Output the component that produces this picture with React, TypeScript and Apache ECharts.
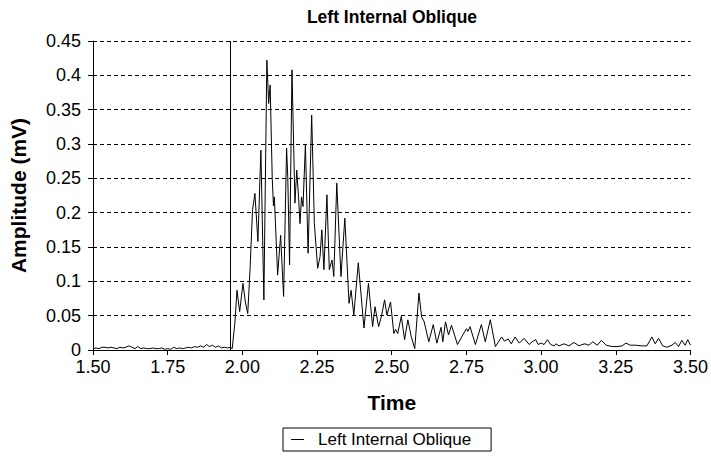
import React, { useEffect, useRef } from "react";
import * as echarts from "echarts";

const TITLE = "Left Internal Oblique";
const SERIES_NAME = "Left Internal Oblique";
const X_NAME = "Time";
const Y_NAME = "Amplitude (mV)";
const ONSET_TIME = 1.963;

const TIMES: number[] = [
  1.5, 1.51, 1.52, 1.53, 1.54, 1.55, 1.56, 1.57, 1.58, 1.59,
  1.6, 1.61, 1.62, 1.63, 1.64, 1.65, 1.66, 1.67, 1.68, 1.69,
  1.7, 1.71, 1.72, 1.73, 1.74, 1.75, 1.76, 1.77, 1.78, 1.79,
  1.8, 1.81, 1.82, 1.83, 1.84, 1.85, 1.86, 1.87, 1.88, 1.89,
  1.9, 1.91, 1.92, 1.93, 1.94, 1.95, 1.96, 1.966,
  1.975, 1.982, 1.991, 2.002, 2.01, 2.018, 2.026, 2.034, 2.042, 2.052,
  2.062, 2.072, 2.082, 2.088, 2.093, 2.1, 2.104, 2.107, 2.118, 2.128,
  2.138, 2.148, 2.152, 2.158, 2.166, 2.176, 2.182, 2.188, 2.193, 2.198,
  2.203, 2.211, 2.22, 2.232, 2.241, 2.252, 2.26, 2.266, 2.273, 2.283,
  2.291, 2.3, 2.306, 2.316, 2.33, 2.343, 2.357, 2.364, 2.373, 2.388,
  2.407, 2.422, 2.436, 2.444, 2.456, 2.466, 2.476, 2.484, 2.496, 2.507,
  2.513, 2.52, 2.532, 2.543, 2.554, 2.565, 2.577, 2.591, 2.6, 2.608,
  2.624, 2.639, 2.651, 2.665, 2.671, 2.68, 2.69, 2.7, 2.72, 2.738,
  2.75, 2.755, 2.762, 2.78, 2.8, 2.813, 2.83, 2.847, 2.868, 2.877,
  2.89, 2.9, 2.913, 2.927, 2.943, 2.96, 2.97, 2.982, 2.99, 3.0,
  3.01, 3.021, 3.032, 3.043, 3.05, 3.06, 3.077, 3.093, 3.11, 3.127,
  3.137, 3.147, 3.16, 3.173, 3.188, 3.202, 3.218, 3.238, 3.254, 3.271,
  3.284, 3.299, 3.316, 3.338, 3.354, 3.371, 3.382, 3.393, 3.407, 3.421,
  3.438, 3.449, 3.46, 3.471, 3.482, 3.491, 3.5,
];

const AMPLITUDES: number[] = [
  0.002, 0.003, 0.002, 0.004, 0.004, 0.003, 0.004, 0.003, 0.002, 0.004,
  0.003, 0.004, 0.006, 0.004, 0.002, 0.005, 0.002, 0.003, 0.002, 0.002,
  0.003, 0.002, 0.002, 0.003, 0.001, 0.002, 0.001, 0.004, 0.002, 0.003,
  0.002, 0.003, 0.004, 0.003, 0.005, 0.004, 0.006, 0.004, 0.008, 0.005,
  0.007, 0.004, 0.006, 0.003, 0.004, 0.003, 0.004, 0.002,
  0.04, 0.087, 0.056, 0.097, 0.07, 0.053, 0.12, 0.204, 0.228, 0.158,
  0.291, 0.073, 0.422, 0.359, 0.386, 0.25, 0.21, 0.223, 0.109, 0.167,
  0.078, 0.294, 0.252, 0.124, 0.408, 0.214, 0.262, 0.223, 0.184, 0.223,
  0.209, 0.299, 0.141, 0.342, 0.184, 0.119, 0.136, 0.175, 0.117, 0.226,
  0.117, 0.131, 0.107, 0.243, 0.107, 0.192, 0.068, 0.087, 0.051, 0.127,
  0.032, 0.097, 0.034, 0.063, 0.034, 0.05, 0.073, 0.051, 0.07, 0.024,
  0.03, 0.024, 0.049, 0.015, 0.044, 0.02, 0.002, 0.083, 0.048, 0.042,
  0.012, 0.037, 0.01, 0.033, 0.012, 0.041, 0.022, 0.036, 0.008, 0.022,
  0.031, 0.027, 0.034, 0.008, 0.037, 0.012, 0.044, 0.005, 0.019, 0.013,
  0.016, 0.009, 0.019, 0.01, 0.017, 0.008, 0.012, 0.015, 0.008, 0.01,
  0.008, 0.015, 0.008, 0.006, 0.009, 0.006, 0.009, 0.006, 0.011, 0.006,
  0.008, 0.009, 0.007, 0.012, 0.007, 0.014, 0.007, 0.005, 0.005, 0.006,
  0.01, 0.007, 0.007, 0.006, 0.006, 0.019, 0.009, 0.017, 0.006, 0.004,
  0.007, 0.011, 0.005, 0.014, 0.007, 0.015, 0.007,
];

const FONT = "'Liberation Sans', Arial, Helvetica, sans-serif";

export default function App() {
  const ref = useRef<HTMLDivElement | null>(null);

  useEffect(() => {
    if (!ref.current) return;
    const chart = echarts.init(ref.current, undefined, { renderer: "svg" });
    const data = TIMES.map((t, i) => [t, AMPLITUDES[i]]);

    chart.setOption({
      animation: false,
      backgroundColor: "#ffffff",
      textStyle: { fontFamily: FONT, color: "#000" },
      title: {
        text: TITLE,
        left: 392,
        textAlign: "center",
        top: 8,
        padding: 0,
        textStyle: { fontFamily: FONT, fontSize: 17.5, fontWeight: "bold", color: "#000" },
      },
      grid: { left: 92, right: 19, top: 41, bottom: 106, containLabel: false },
      xAxis: {
        type: "value",
        min: 1.5,
        max: 3.5,
        interval: 0.25,
        name: X_NAME,
        nameLocation: "middle",
        nameGap: 42,
        nameTextStyle: { fontFamily: FONT, fontSize: 21, fontWeight: "bold", color: "#000" },
        axisLine: { show: true, onZero: false, lineStyle: { color: "#000", width: 1 } },
        axisTick: { show: true, inside: false, length: 5, lineStyle: { color: "#000" } },
        axisLabel: {
          fontFamily: FONT,
          fontSize: 18,
          color: "#000",
          margin: 8,
          formatter: (v: number) => v.toFixed(2),
        },
        splitLine: { show: false },
      },
      yAxis: {
        type: "value",
        min: 0,
        max: 0.45,
        interval: 0.05,
        name: Y_NAME,
        nameLocation: "middle",
        nameGap: 64,
        nameTextStyle: { fontFamily: FONT, fontSize: 21, fontWeight: "bold", color: "#000" },
        axisLine: { show: true, lineStyle: { color: "#000", width: 1 } },
        axisTick: { show: true, inside: false, length: 5, lineStyle: { color: "#000" } },
        axisLabel: {
          fontFamily: FONT,
          fontSize: 18,
          color: "#000",
          margin: 12,
          formatter: (v: number) => String(Math.round(v * 100) / 100),
        },
        splitLine: { show: true, lineStyle: { color: "#000", width: 1, type: [4, 3] } },
      },
      legend: {
        show: true,
        data: [SERIES_NAME],
        left: 283,
        top: 428,
        padding: [3, 20, 3, 8],
        borderColor: "#000",
        borderWidth: 1,
        borderRadius: 0,
        icon: "rect",
        itemWidth: 13,
        itemHeight: 1,
        itemStyle: { color: "#000" },
        textStyle: { fontFamily: FONT, fontSize: 17, color: "#000", padding: [0, 0, 0, 9] },
      },
      series: [
        {
          name: SERIES_NAME,
          type: "line",
          data,
          showSymbol: false,
          symbol: "none",
          lineStyle: { color: "#000", width: 1 },
          itemStyle: { color: "#000" },
          markLine: {
            silent: true,
            symbol: ["none", "none"],
            label: { show: false },
            lineStyle: { color: "#000", width: 1, type: "solid" },
            data: [{ xAxis: ONSET_TIME }],
          },
        },
      ],
    });

    return () => chart.dispose();
  }, []);

  return (
    <div
      ref={ref}
      style={{ position: "fixed", left: 0, top: 0, width: 711, height: 456, background: "#fff" }}
    />
  );
}
